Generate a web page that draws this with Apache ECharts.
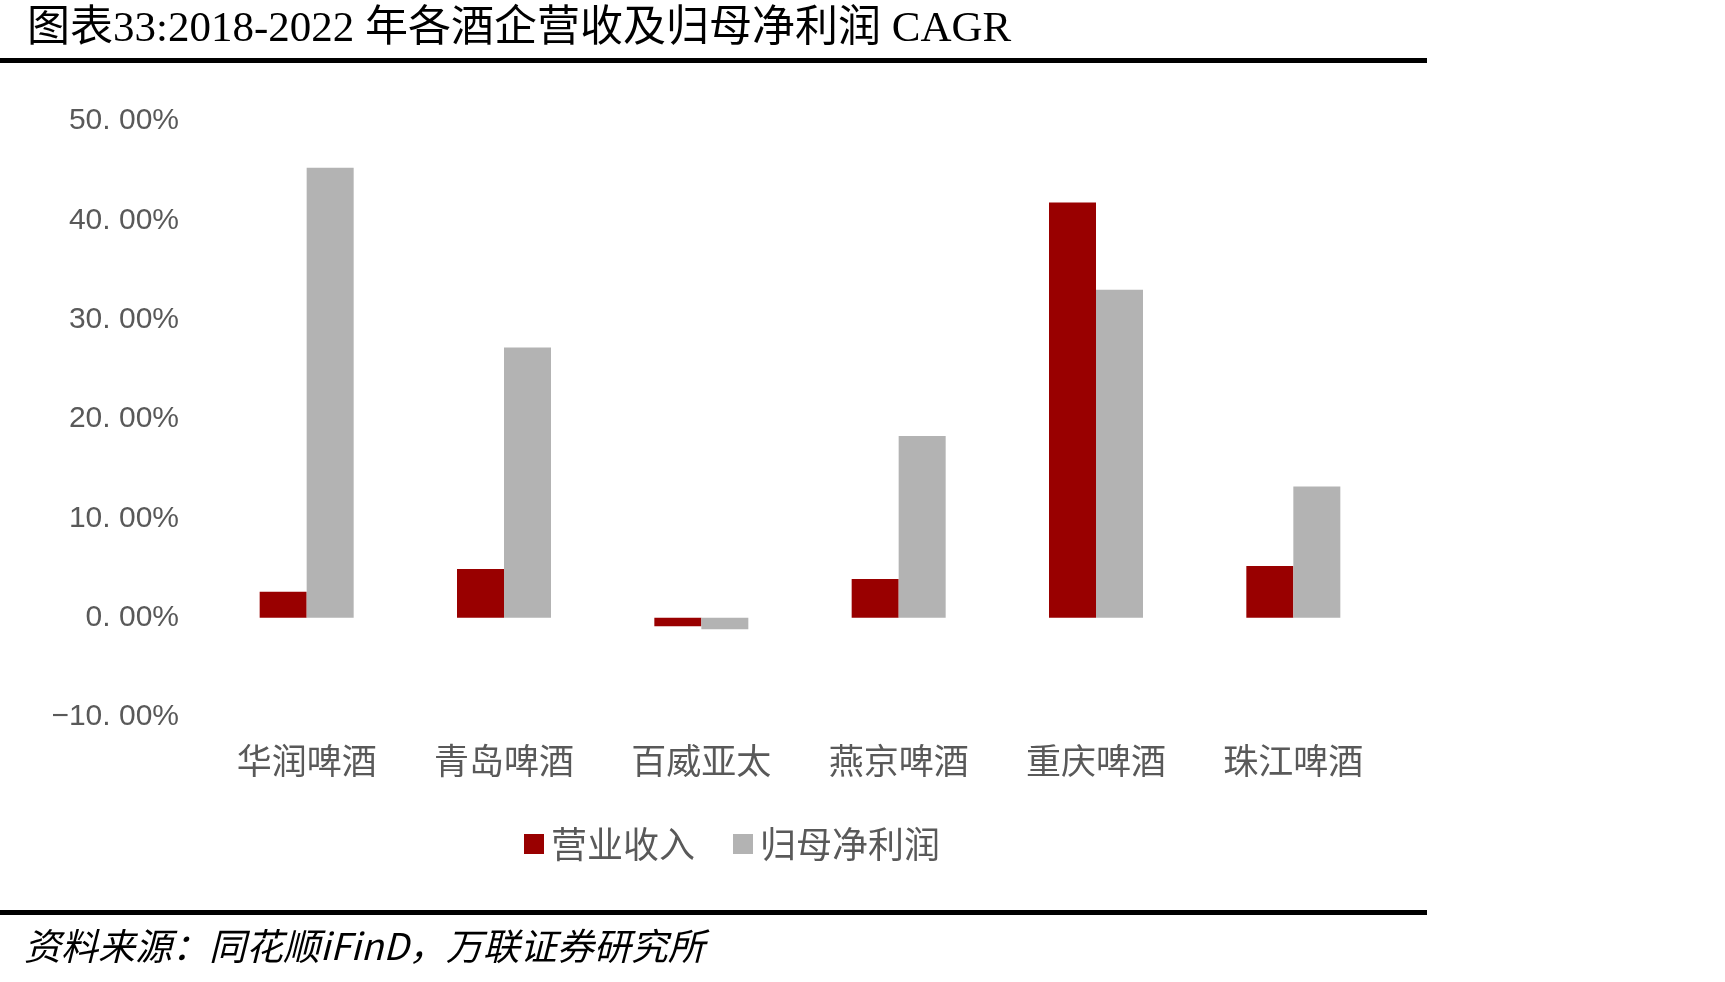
<!DOCTYPE html>
<html>
<head>
<meta charset="utf-8">
<script src="https://cdn.jsdelivr.net/npm/echarts@6/dist/echarts.min.js"></script>
<style>
  html, body { margin: 0; padding: 0; background: #fff; }
  #chart { width: 1725px; height: 982px; }
</style>
</head>
<body>
<div id="chart"></div>
<script>
const companies = ['华润啤酒', '青岛啤酒', '百威亚太', '燕京啤酒', '重庆啤酒', '珠江啤酒']
const revenueCagr = [2.6, 4.9, -0.87, 3.9, 41.8, 5.2]
const netProfitCagr = [45.3, 27.2, -1.17, 18.3, 33.0, 13.2]
const seriesNames = ['营业收入', '归母净利润']
const yTicks = { min: -10, max: 50, interval: 10 }

const cjk = "'Noto Sans CJK SC', sans-serif"
const labelColor = '#595959'

const chart = echarts.init(document.getElementById('chart'))

const option = {
  backgroundColor: '#fff',
  animation: false,
  title: {
    text: '图表33:2018-2022 年各酒企营收及归母净利润 CAGR',
    left: 22,
    top: 3,
    textStyle: {
      fontFamily: "'Liberation Serif', 'Noto Sans CJK SC', serif",
      fontSize: 43,
      fontWeight: 'normal',
      color: '#000'
    }
  },
  graphic: [
    { type: 'rect', shape: { x: 0, y: 58, width: 1427, height: 5 }, style: { fill: '#000' } },
    { type: 'rect', shape: { x: 0, y: 910, width: 1427, height: 5 }, style: { fill: '#000' } },
    {
      type: 'text',
      left: 24,
      top: 927,
      style: {
        text: '资料来源：同花顺iFinD，万联证券研究所',
        font: 'italic 37px ' + cjk,
        fill: '#000'
      }
    }
  ],
  legend: {
    left: 519,
    top: 821,
    icon: 'rect',
    itemWidth: 20,
    itemHeight: 20,
    itemGap: 38,
    textStyle: { fontFamily: cjk, fontSize: 36, color: labelColor, padding: [0, 0, 0, 2] },
    data: seriesNames
  },
  grid: {
    left: 208,
    right: 333,
    top: 121,
    bottom: 265,
    containLabel: false
  },
  xAxis: {
    type: 'category',
    data: companies,
    axisLine: { show: false },
    axisTick: { show: false },
    axisLabel: {
      margin: 26,
      fontFamily: cjk,
      fontSize: 35,
      color: labelColor
    }
  },
  yAxis: {
    type: 'value',
    min: yTicks.min,
    max: yTicks.max,
    interval: yTicks.interval,
    splitLine: { show: false },
    axisLine: { show: false },
    axisTick: { show: false },
    axisLabel: {
      margin: 29,
      fontFamily: "'Liberation Sans', Arial, sans-serif",
      fontSize: 30,
      color: labelColor,
      formatter: v => v.toFixed(2).replace('.', '. ').replace('-', '\u2212') + '%'
    }
  },
  series: [
    {
      name: seriesNames[0],
      type: 'bar',
      data: revenueCagr,
      barWidth: 47,
      barGap: '0%',
      itemStyle: { color: '#990000' }
    },
    {
      name: seriesNames[1],
      type: 'bar',
      data: netProfitCagr,
      barWidth: 47,
      barGap: '0%',
      itemStyle: { color: '#B3B3B3' }
    }
  ]
}

chart.setOption(option)
</script>
</body>
</html>
